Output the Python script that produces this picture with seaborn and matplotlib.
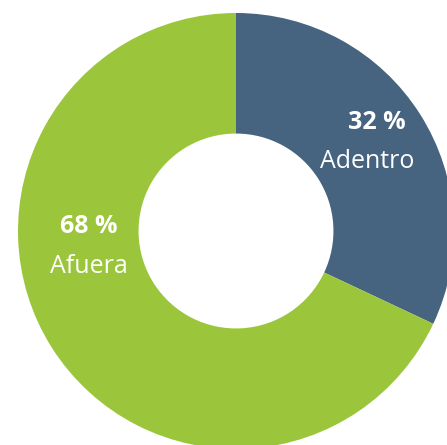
import matplotlib
matplotlib.use("Agg")
import matplotlib.pyplot as plt
import seaborn as sns

# data
labels = ["Adentro", "Afuera"]
values = [32, 68]
colors = ["#46637f", "#9bc63b"]

sns.set_theme(style="white")
plt.rcParams["font.family"] = ["Open Sans", "DejaVu Sans"]

fig = plt.figure(figsize=(4.47, 4.45), dpi=100)
ax = fig.add_axes([0, 0, 1, 1])

ax.pie(values, colors=colors, startangle=90, counterclock=False,
       radius=1.0, wedgeprops=dict(width=0.553, edgecolor="none"))

# label positions (data coords, r=1 is outer edge): (x pct, y pct, x name, y name)
label_pos = {"Adentro": (0.647, 0.468, 0.603, 0.289),
             "Afuera": (-0.677, -0.009, -0.677, -0.193)}
for lab, val in zip(labels, values):
    xp, yp, xn, yn = label_pos[lab]
    ax.text(xp, yp, f"{val} %", color="white", fontsize=18,
            fontweight="bold", ha="center", va="baseline")
    ax.text(xn, yn, lab, color="white", fontsize=18,
            ha="center", va="baseline")

ax.set_aspect("auto")
ax.set_xlim(-236 / 218, (447 - 236) / 218)
ax.set_ylim((231 - 445) / 218, 231 / 218)
ax.axis("off")

plt.savefig("out.png", dpi=100)
